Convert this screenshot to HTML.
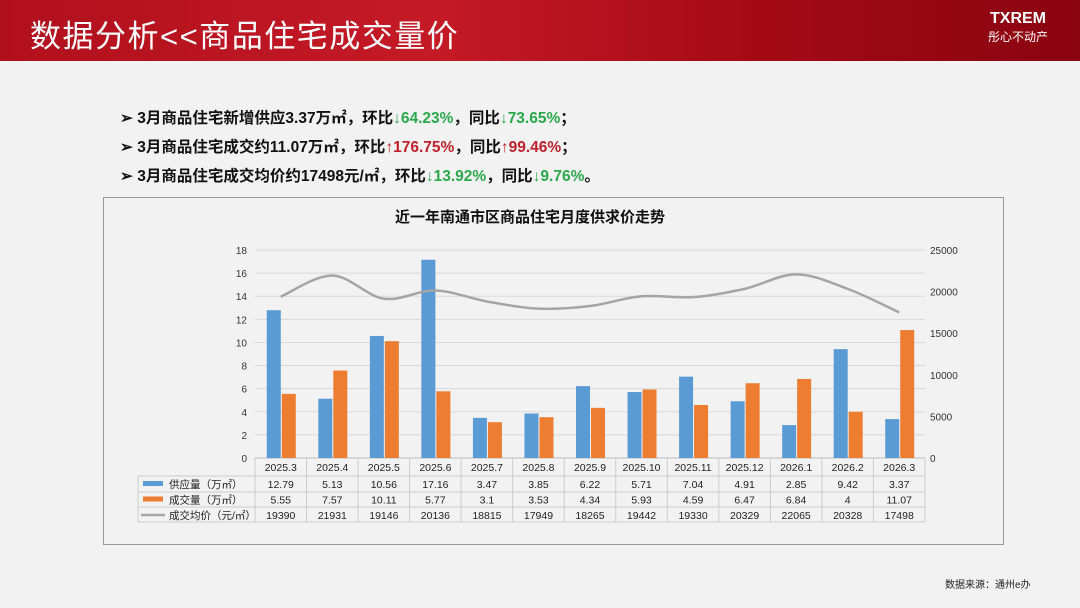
<!DOCTYPE html>
<html><head><meta charset="utf-8"><style>
body{margin:0;width:1080px;height:608px;overflow:hidden;background:#f2f2f2;font-family:"Liberation Sans","Noto Sans CJK SC",sans-serif;position:relative}
.hdr{position:absolute;left:0;top:0;width:1080px;height:61px;background:linear-gradient(90deg,#b0101c 0%,#c41a26 40%,#a40a16 70%,#8a0410 100%)}
.hdr .t{position:absolute;left:30px;top:11px;font-size:31px;color:#fff;letter-spacing:1.5px}
.logo{position:absolute;left:988px;top:10px;color:#fff;text-align:center;font-size:16px;font-weight:bold;line-height:18px}
.logo small{display:block;font-size:12px;font-weight:normal}
.b{position:absolute;left:120px;font-size:15.5px;font-weight:bold;color:#111}
.g{color:#2aa84a}.r{color:#c0202a}
.frame{position:absolute;left:103px;top:197px;width:899px;height:346px;border:1px solid #999;background:#f2f2f2}
.src{position:absolute;left:945px;top:576px;font-size:10px;color:#222}
</style></head><body>
<div class="hdr"><div class="t">数据分析&lt;&lt;商品住宅成交量价</div>
<div class="logo">TXREM<small>彤心不动产</small></div></div>
<div class="b" style="top:106px">➢ 3月商品住宅新增供应3.37万㎡，环比<span class="g">↓64.23%</span>，同比<span class="g">↓73.65%</span>；</div>
<div class="b" style="top:135px">➢ 3月商品住宅成交约11.07万㎡，环比<span class="r">↑176.75%</span>，同比<span class="r">↑99.46%</span>；</div>
<div class="b" style="top:164px">➢ 3月商品住宅成交均价约17498元/㎡，环比<span class="g">↓13.92%</span>，同比<span class="g">↓9.76%</span>。</div>
<div class="frame"></div>
<svg id="c" width="1080" height="608" style="position:absolute;left:0;top:0"></svg>
<div class="src">数据来源：通州e办</div>
<script>
const categories=["2025.3","2025.4","2025.5","2025.6","2025.7","2025.8","2025.9","2025.10","2025.11","2025.12","2026.1","2026.2","2026.3"];
const supply=[12.79,5.13,10.56,17.16,3.47,3.85,6.22,5.71,7.04,4.91,2.85,9.42,3.37];
const deal=[5.55,7.57,10.11,5.77,3.1,3.53,4.34,5.93,4.59,6.47,6.84,4,11.07];
const price=[19390,21931,19146,20136,18815,17949,18265,19442,19330,20329,22065,20328,17498];
const leftTicks=[0,2,4,6,8,10,12,14,16,18];
const rightTicks=[0,5000,10000,15000,20000,25000];
const NS="http://www.w3.org/2000/svg";
const svg=document.getElementById('c');
const X0=255,X1=925,Y0=458,Y1=250;
const cw=(X1-X0)/categories.length;
const yL=v=>Y0-(v/18)*(Y0-Y1);
const yR=v=>Y0-(v/25000)*(Y0-Y1);
const xc=i=>X0+cw*(i+0.5);
function mk(t,a,txt){const e=document.createElementNS(NS,t);for(const k in a)e.setAttribute(k,a[k]);if(txt!=null)e.textContent=txt;svg.appendChild(e);return e;}
let e=mk('text',{x:530,y:222,'text-anchor':'middle','font-size':15,'font-weight':'bold',fill:'#111'},'近一年南通市区商品住宅月度供求价走势');

leftTicks.forEach(v=>{const g=mk('line',{x1:X0,x2:X1,y1:yL(v),y2:yL(v),stroke:v?'#d9d9d9':'#bbb'});

const t=mk('text',{x:247,y:yL(v)+4,'text-anchor':'end','font-size':10,fill:'#333'},v);
});
rightTicks.forEach(v=>{const t=mk('text',{x:930,y:yR(v)+4,'font-size':10,fill:'#333'},v);
});
const bw=14;
categories.forEach((c,i)=>{
 let r=mk('rect',{x:xc(i)-bw,y:yL(supply[i]),width:bw,height:Y0-yL(supply[i]),fill:'#5b9bd5'});
 
 r=mk('rect',{x:xc(i)+1,y:yL(deal[i]),width:bw,height:Y0-yL(deal[i]),fill:'#ed7d31'});
 
});
const pts=price.map((v,i)=>[xc(i),yR(v)]);
let d=`M${pts[0][0]},${pts[0][1]}`;
for(let i=0;i<pts.length-1;i++){const p0=pts[i-1]||pts[i],p1=pts[i],p2=pts[i+1],p3=pts[i+2]||p2;
d+=` C${p1[0]+(p2[0]-p0[0])/6},${p1[1]+(p2[1]-p0[1])/6} ${p2[0]-(p3[0]-p1[0])/6},${p2[1]-(p3[1]-p1[1])/6} ${p2[0]},${p2[1]}`;}
e=mk('path',{d:d,fill:'none',stroke:'#a5a5a5','stroke-width':2.5});

const TL=138;
const lines=[[TL,476,X1,476],[TL,492,X1,492],[TL,507,X1,507],[TL,522,X1,522],[TL,476,TL,522]];
for(let i=0;i<=categories.length;i++)lines.push([X0+cw*i,Y0,X0+cw*i,522]);
lines.forEach(l=>{const g=mk('line',{x1:l[0],y1:l[1],x2:l[2],y2:l[3],stroke:'#ccc'});});
categories.forEach((c,i)=>{
 let t=mk('text',{x:xc(i),y:471,'text-anchor':'middle','font-size':10.5,fill:'#222'},c);
 
 [supply,deal,price].forEach((arr,k)=>{t=mk('text',{x:xc(i),y:488+k*15.5,'text-anchor':'middle','font-size':10.5,fill:'#222'},arr[i]);
 });
});
const leg=[['供应量（万㎡）','#5b9bd5','rect'],['成交量（万㎡）','#ed7d31','rect'],['成交均价（元/㎡）','#a5a5a5','line']];
leg.forEach((l,k)=>{const y=484+k*15.5;
 let s=l[2]=='rect'?mk('rect',{x:143,y:y-3,width:20,height:5,fill:l[1]}):mk('line',{x1:141,x2:165,y1:y,y2:y,stroke:l[1],'stroke-width':2.5});
 
 const t=mk('text',{x:169,y:y+4,'font-size':10.5,fill:'#222'},l[0]);
 });
</script>
</body></html>
